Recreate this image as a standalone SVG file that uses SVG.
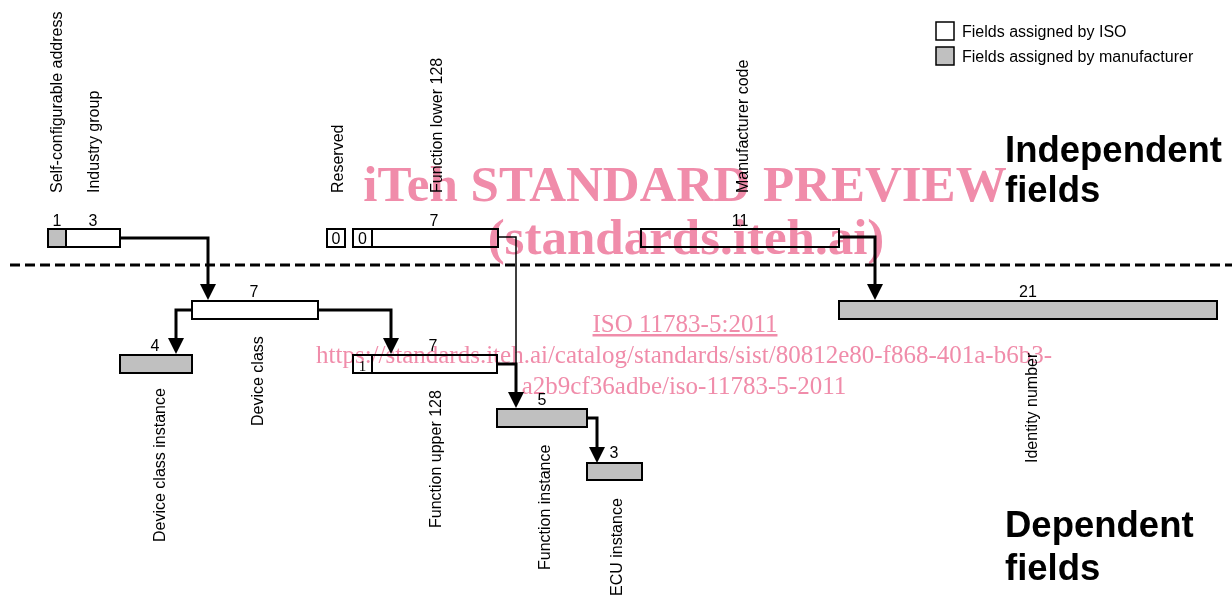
<svg xmlns="http://www.w3.org/2000/svg" width="1232" height="596" viewBox="0 0 1232 596">
<style>
.box{stroke:#000;stroke-width:2}
.iso{fill:#fff}
.mfr{fill:#c0c0c0}
.t{font-family:"Liberation Sans",Arial,sans-serif;font-size:16px;fill:#000}
.n{font-family:"Liberation Sans",Arial,sans-serif;font-size:16px;fill:#000;text-anchor:middle}
.big{font-family:"Liberation Sans",Arial,sans-serif;font-size:36.5px;font-weight:bold;fill:#000}
.con{fill:none;stroke:#000;stroke-width:3}
.thin{fill:none;stroke:#000;stroke-width:1.5}
.wm{font-family:"Liberation Serif","Times New Roman",serif;fill:#F08CAA;text-anchor:middle;mix-blend-mode:multiply}
</style>
<defs>
<marker id="arr" markerUnits="userSpaceOnUse" markerWidth="16" markerHeight="16" refX="6" refY="8" orient="auto">
<path d="M0,0 L16,8 L0,16 z" fill="#000"/>
</marker>
</defs>
<rect width="1232" height="596" fill="#fff"/>

<g id="legend">
<rect class="box iso" x="936" y="22" width="18" height="18" style="stroke-width:1.5"/>
<text class="t" x="962" y="37">Fields assigned by ISO</text>
<rect class="box mfr" x="936" y="47" width="18" height="18" style="stroke-width:1.5"/>
<text class="t" x="962" y="62">Fields assigned by manufacturer</text>
</g>

<g id="headings">
<text class="big" x="1005" y="162">Independent</text>
<text class="big" x="1005" y="202">fields</text>
<text class="big" x="1005" y="537">Dependent</text>
<text class="big" x="1005" y="580">fields</text>
</g>

<line x1="10" y1="265" x2="1232" y2="265" stroke="#000" stroke-width="3" stroke-dasharray="10,5"/>

<g id="self-configurable-address">
<rect class="box mfr" x="48" y="229" width="18" height="18"/>
<text class="n" x="57" y="226">1</text>
<text class="t" transform="translate(62,193) rotate(-90)">Self-configurable address</text>
</g>
<g id="industry-group">
<rect class="box iso" x="66" y="229" width="54" height="18"/>
<text class="n" x="93" y="226">3</text>
<text class="t" transform="translate(99,193) rotate(-90)">Industry group</text>
</g>
<g id="reserved">
<rect class="box iso" x="327" y="229" width="18" height="18"/>
<text class="n" x="336" y="244">0</text>
<text class="t" transform="translate(343,193) rotate(-90)">Reserved</text>
</g>
<g id="function-lower-128">
<rect class="box iso" x="353" y="229" width="19" height="18"/>
<text class="n" x="362.5" y="244">0</text>
<rect class="box iso" x="372" y="229" width="126" height="18"/>
<text class="n" x="434" y="226">7</text>
<text class="t" transform="translate(442,193) rotate(-90)">Function lower 128</text>
</g>
<g id="manufacturer-code">
<rect class="box iso" x="641" y="229" width="198" height="18"/>
<text class="n" x="740" y="226">11</text>
<text class="t" transform="translate(748,193) rotate(-90)">Manufacturer code</text>
</g>
<g id="device-class">
<rect class="box iso" x="192" y="301" width="126" height="18"/>
<text class="n" x="254" y="297">7</text>
<text class="t" transform="translate(263,426) rotate(-90)">Device class</text>
</g>
<g id="identity-number">
<rect class="box mfr" x="839" y="301" width="378" height="18"/>
<text class="n" x="1028" y="297">21</text>
<text class="t" transform="translate(1037,463) rotate(-90)">Identity number</text>
</g>
<g id="device-class-instance">
<rect class="box mfr" x="120" y="355" width="72" height="18"/>
<text class="n" x="155" y="351">4</text>
<text class="t" transform="translate(165,542) rotate(-90)">Device class instance</text>
</g>
<g id="function-upper-128">
<rect class="box iso" x="353" y="355" width="19" height="18"/>
<text x="362.5" y="371" style="font-family:'Liberation Serif',serif;font-size:15px;text-anchor:middle">1</text>
<rect class="box iso" x="372" y="355" width="125" height="18"/>
<text class="n" x="433" y="351">7</text>
<text class="t" transform="translate(441,528) rotate(-90)">Function upper 128</text>
</g>
<g id="function-instance">
<rect class="box mfr" x="497" y="409" width="90" height="18"/>
<text class="n" x="542" y="405">5</text>
<text class="t" transform="translate(550,570) rotate(-90)">Function instance</text>
</g>
<g id="ecu-instance">
<rect class="box mfr" x="587" y="463" width="55" height="17"/>
<text class="n" x="614" y="458">3</text>
<text class="t" transform="translate(622,596) rotate(-90)">ECU instance</text>
</g>

<g id="connectors">
<path class="con" d="M120,238 H208 V290" marker-end="url(#arr)"/>
<path class="con" d="M839,237 H875 V290" marker-end="url(#arr)"/>
<path class="con" d="M192,310 H176 V344" marker-end="url(#arr)"/>
<path class="con" d="M318,310 H391 V344" marker-end="url(#arr)"/>
<path class="thin" d="M498,237 H516 V364"/>
<path class="con" d="M497,364 H516 V398" marker-end="url(#arr)"/>
<path class="con" d="M587,418 H597 V453" marker-end="url(#arr)"/>
</g>

<g id="watermark">
<text class="wm" x="685" y="201" style="font-size:51px;font-weight:bold">iTeh STANDARD PREVIEW</text>
<text class="wm" x="686" y="254" style="font-size:51px;font-weight:bold">(standards.iteh.ai)</text>
<text class="wm" x="685" y="332" style="font-size:25px;text-decoration:underline">ISO 11783-5:2011</text>
<text class="wm" x="684" y="363" style="font-size:25px">https://standards.iteh.ai/catalog/standards/sist/80812e80-f868-401a-b6b3-</text>
<text class="wm" x="684" y="394" style="font-size:25px">a2b9cf36adbe/iso-11783-5-2011</text>
</g>
</svg>
